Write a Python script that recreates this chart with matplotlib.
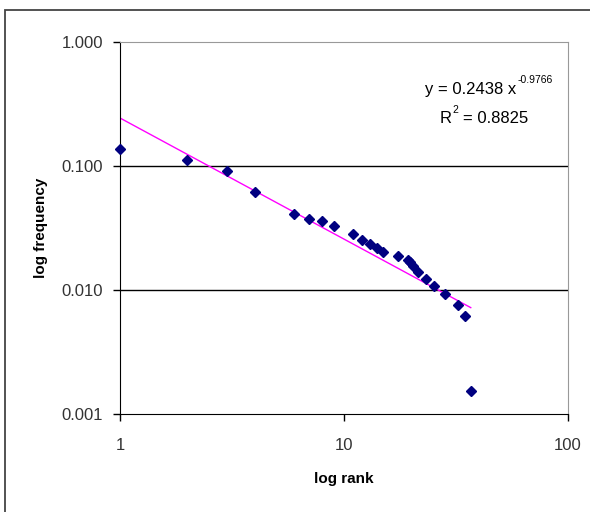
import numpy as np
import matplotlib.pyplot as plt
from matplotlib.patches import Rectangle

plt.rcParams['font.family'] = ['Liberation Sans', 'DejaVu Sans']

# rank / frequency
rank = [1, 2, 3, 4, 6, 7, 8, 9, 11, 12, 13, 14, 15, 17.4, 19.3, 19.8,
        20.4, 21.3, 23.2, 25.2, 28.2, 32.4, 34.7, 36.8]
freq = [0.136, 0.112, 0.091, 0.0617, 0.0408, 0.0372, 0.0362, 0.0328,
        0.0284, 0.0252, 0.0235, 0.0217, 0.0203, 0.0188, 0.0175, 0.0168,
        0.0157, 0.0139, 0.0123, 0.0108, 0.0093, 0.0076, 0.0062, 0.00152]

# power trendline from the chart label
coef_a = 0.2438
coef_b = -0.9766
r2 = 0.8825

fig = plt.figure(figsize=(5.9, 5.12), dpi=100)
ax = fig.add_axes([120/590, 1-414/512, 448/590, 372/512])

# outer chart border (runs off the right and bottom of the image)
fig.patches.append(Rectangle((5/590, -0.05), 1.0, 1 - 10/512 + 0.05, transform=fig.transFigure,
                             fill=False, edgecolor='#444444', lw=1.3))

ax.set_xscale('log')
ax.set_yscale('log')
ax.set_xlim(1, 100)
ax.set_ylim(0.001, 1)

for yv in [0.01, 0.1]:
    ax.axhline(yv, color='black', lw=1, zorder=1)

xs = np.linspace(1, max(rank), 200)
ax.plot(xs, coef_a * xs ** coef_b, color='#FF00FF', lw=1, zorder=2)
ax.plot(rank, freq, 'D', color='#000080', markersize=5, zorder=3, linestyle='none', clip_on=False)

ax.set_yticks([0.001, 0.01, 0.1, 1])
ax.set_yticklabels(['0.001', '0.010', '0.100', '1.000'])
ax.set_xticks([1, 10, 100])
ax.set_xticklabels(['1', '10', '100'])
ax.minorticks_off()
ax.tick_params(axis='both', direction='out', length=5, width=1, labelsize=12, colors='black')
ax.tick_params(axis='y', pad=7)
ax.tick_params(axis='x', pad=12)
for lbl in ax.get_xticklabels() + ax.get_yticklabels():
    lbl.set_color('#333333')

ax.spines['top'].set_color('#999999')
ax.spines['right'].set_color('#999999')
ax.spines['left'].set_color('black')
ax.spines['bottom'].set_color('black')

ax.set_xlabel('log rank', fontsize=11, fontweight='bold', labelpad=14)
ax.set_ylabel('log frequency', fontsize=11, fontweight='bold', labelpad=10)

# trendline equation
ax.text(0.885, 0.872, 'y = %.4f x' % coef_a, transform=ax.transAxes,
        ha='right', va='center', fontsize=12)
ax.text(0.888, 0.897, '%.4f' % coef_b, transform=ax.transAxes,
        ha='left', va='center', fontsize=7.5)
ax.text(0.741, 0.795, 'R', transform=ax.transAxes, ha='right', va='center', fontsize=12)
ax.text(0.743, 0.818, '2', transform=ax.transAxes, ha='left', va='center', fontsize=7.5)
ax.text(0.765, 0.795, '= %.4f' % r2, transform=ax.transAxes, ha='left', va='center', fontsize=12)

fig.savefig('out.png', dpi=100)
